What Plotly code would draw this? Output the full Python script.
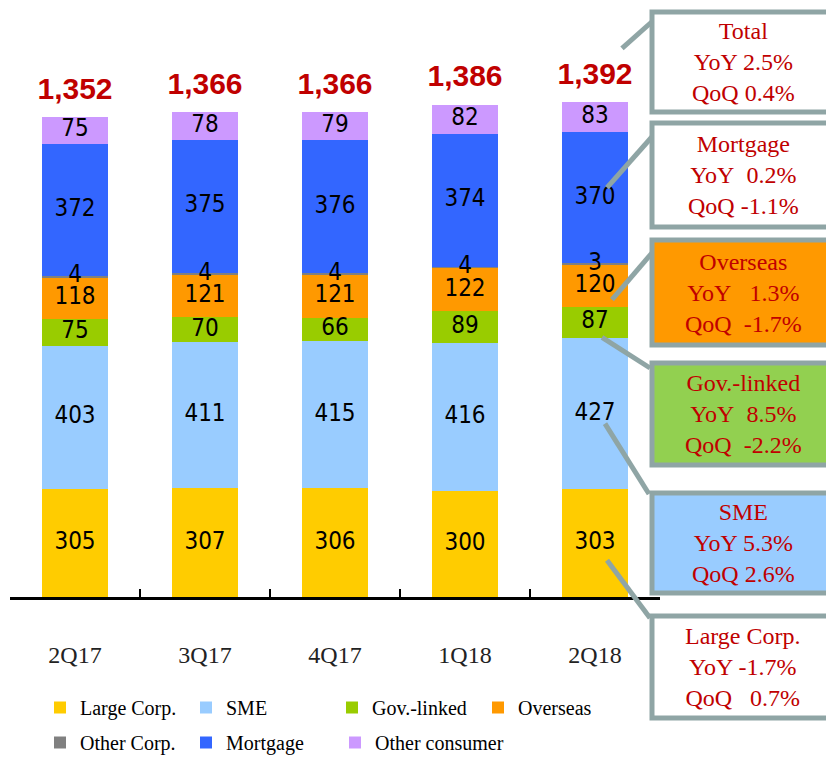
import plotly.graph_objects as go

categories = ["2Q17", "3Q17", "4Q17", "1Q18", "2Q18"]
large_corp = [305, 307, 306, 300, 303]
sme = [403, 411, 415, 416, 427]
gov_linked = [75, 70, 66, 89, 87]
overseas = [118, 121, 121, 122, 120]
other_corp = [4, 4, 4, 4, 3]
mortgage = [372, 375, 376, 374, 370]
other_consumer = [75, 78, 79, 82, 83]
total_labels = ["1,352", "1,366", "1,366", "1,386", "1,392"]

series = [
    ("Large Corp.", large_corp, "#FFCC00", "legend"),
    ("SME", sme, "#99CCFF", "legend"),
    ("Gov.-linked", gov_linked, "#99CC00", "legend"),
    ("Overseas", overseas, "#FF9900", "legend"),
    ("Other Corp.", other_corp, "#808080", "legend2"),
    ("Mortgage", mortgage, "#3366FF", "legend2"),
    ("Other consumer", other_consumer, "#CC99FF", "legend3"),
]

boxes = [
    ("Total", "YoY 2.5%", "QoQ 0.4%", "#FFFFFF", None),
    ("Mortgage", "YoY\u00a0 0.2%", "QoQ -1.1%", "#FFFFFF", "Mortgage"),
    ("Overseas", "YoY\u00a0\u00a0 1.3%", "QoQ\u00a0 -1.7%", "#FF9900", "Overseas"),
    ("Gov.-linked", "YoY\u00a0 8.5%", "QoQ\u00a0 -2.2%", "#92D050", "Gov.-linked"),
    ("SME", "YoY 5.3%", "QoQ 2.6%", "#99CCFF", "SME"),
    ("Large Corp.", "YoY -1.7%", "QoQ\u00a0\u00a0 0.7%", "#FFFFFF", "Large Corp."),
]

# layout geometry (pixels)
W, H = 826, 762
ML, MR, MT, MB = 0, 166, 29, 165
AX_LEFT = 10
PW, PH = W - ML - MR, H - MT - MB
YMAX = 1600

def px2paper_x(px):
    return (px - ML) / PW

def px2paper_y(py):
    return (H - MB - py) / PH

def data2py(v):
    return (H - MB) - v * PH / YMAX

LABEL_FONT = "DejaVu Sans Condensed, Liberation Sans Narrow, Arial Narrow, sans-serif"
SERIF = "Liberation Serif, Times New Roman, serif"

fig = go.Figure()
cum = [0] * len(categories)
mids = {}
for name, vals, color, leg in series:
    fig.add_trace(go.Bar(
        name=name, x=categories, y=vals, marker=dict(color=color, line=dict(width=0)),
        textposition="none", hoverinfo="skip", legend=leg,
    ))
    mids[name] = [c + v / 2 for c, v in zip(cum, vals)]
    fig.add_trace(go.Scatter(
        x=categories, y=mids[name], mode="text", text=[str(v) for v in vals],
        textposition="middle center", showlegend=False, hoverinfo="skip",
        textfont=dict(family=LABEL_FONT, size=24, color="#000000"),
        cliponaxis=False,
    ))
    cum = [c + v for c, v in zip(cum, vals)]

fig.add_trace(go.Scatter(
    x=categories, y=[c + 30 for c in cum], mode="text", text=[f"<b>{t}</b>" for t in total_labels],
    textposition="top center", showlegend=False, hoverinfo="skip",
    textfont=dict(family="Liberation Sans, Arial, sans-serif", size=30, color="#C00000"),
    cliponaxis=False,
))

# annotation boxes on the right
box_y = [(12, 112), (123, 227), (240, 345), (363, 465), (493, 593), (616, 718)]
box_x0, box_x1 = 652, 836
line_color = "#8FA5A5"
shapes = []
annotations = []
plot_w = (W - MR) - AX_LEFT
bar_cx = AX_LEFT + plot_w * (4.5 / 5)
conn = {
    None: ((27, -54), (655, 19)),
    "Mortgage": ((12, -10), (658, 130)),
    "Overseas": ((17, 14), (657, 247)),
    "Gov.-linked": ((7, 15), (650, 368)),
    "SME": ((10, 10), (649, 494)),
    "Large Corp.": ((12, 17), (650, 618)),
}
for (title, yoy, qoq, fill, key), (y0, y1) in zip(boxes, box_y):
    (dx, dy), (ex, ey) = conn[key]
    if key is None:
        sy = data2py(cum[4]) + dy
    else:
        sy = data2py(mids[key][4]) + dy
    sx = bar_cx + dx
    shapes.append(dict(type="line", xref="paper", yref="paper",
                       x0=px2paper_x(sx), y0=px2paper_y(sy), x1=px2paper_x(ex), y1=px2paper_y(ey),
                       line=dict(color=line_color, width=5), layer="above"))
    shapes.append(dict(type="rect", xref="paper", yref="paper",
                       x0=px2paper_x(box_x0), x1=px2paper_x(box_x1),
                       y0=px2paper_y(y1), y1=px2paper_y(y0),
                       fillcolor=fill, line=dict(color=line_color, width=5), layer="above"))
    annotations.append(dict(xref="paper", yref="paper", x=px2paper_x(743), y=px2paper_y((y0 + y1) / 2),
                            xanchor="center", yanchor="middle", showarrow=False,
                            text=f"{title}<br>{yoy}<br>{qoq}", align="center",
                            font=dict(family=SERIF, size=24, color="#C00000")))

COL_W = 147
legend_common = dict(orientation="h", xanchor="left", yanchor="bottom",
                     traceorder="normal", entrywidth=COL_W - 46, entrywidthmode="pixels", itemwidth=30,
                     font=dict(family=SERIF, size=20, color="#000000"),
                     bgcolor="rgba(0,0,0,0)")

fig.update_layout(
    width=W, height=H,
    margin=dict(l=ML, r=MR, t=MT, b=MB, pad=0),
    barmode="stack", bargap=0.49,
    plot_bgcolor="white", paper_bgcolor="white",
    showlegend=True,
    legend=dict(legend_common, x=px2paper_x(40), y=px2paper_y(727)),
    legend2=dict(legend_common, x=px2paper_x(40), y=px2paper_y(762)),
    legend3=dict(legend_common, x=px2paper_x(41 + 2 * COL_W), y=px2paper_y(762), entrywidth=0),
    xaxis=dict(domain=[AX_LEFT / PW, 1], range=[-0.5, 4.5], showline=True, linecolor="#000000", linewidth=3,
               ticks="inside", tickson="boundaries", ticklen=8, tickwidth=2, tickcolor="#000000",
               ticklabelstandoff=34,
               tickfont=dict(family=SERIF, size=24, color="#222222"),
               showgrid=False, zeroline=False, fixedrange=True),
    yaxis=dict(range=[0, YMAX], visible=False, showgrid=False, zeroline=False, fixedrange=True),
    shapes=shapes, annotations=annotations,
)

fig.write_html("out.html")
